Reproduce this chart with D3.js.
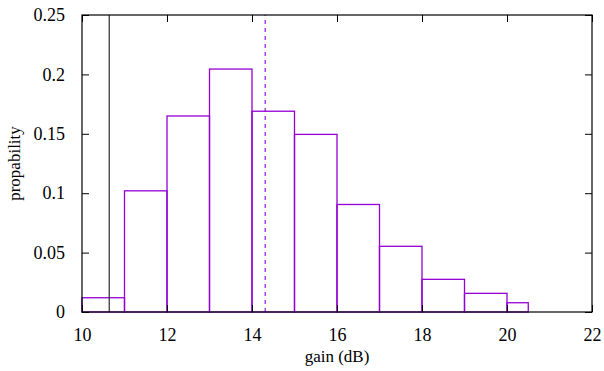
<!DOCTYPE html>
<html>
<head>
<meta charset="utf-8">
<script src="https://cdn.jsdelivr.net/npm/d3@7"></script>
<style>
  body { margin: 0; background: #fff; }
  svg, svg text { font-family: "Liberation Serif", "Times New Roman", serif; }
</style>
</head>
<body>
<svg id="chart" width="604" height="371"></svg>
<script>
// histogram bins (gain in dB) and their probabilities
const binStart = [10, 11, 12, 13, 14, 15, 16, 17, 18, 19, 20];
const binEnd   = [11, 12, 13, 14, 15, 16, 17, 18, 19, 20, 20.5];
const prob     = [0.012, 0.102, 0.165, 0.2045, 0.169, 0.1495, 0.0905, 0.0553, 0.0275, 0.0157, 0.0078];

const xTicks = [10, 12, 14, 16, 18, 20, 22];
const yTicks = [0, 0.05, 0.1, 0.15, 0.2, 0.25];

const solidMark = 10.64;  // black vertical line
const dashedMark = 14.31; // purple dashed line

const svg = d3.select("#chart");
const m = { left: 82, right: 12, top: 15, bottom: 59 };
const W = 604, H = 371;
const purple = "#9400d3";

const x = d3.scaleLinear().domain([10, 22]).range([m.left, W - m.right]);
const y = d3.scaleLinear().domain([0, 0.25]).range([H - m.bottom, m.top]);

// bars
svg.append("g").selectAll("rect")
  .data(prob)
  .join("rect")
  .attr("x", (d, i) => x(binStart[i]))
  .attr("y", d => y(d))
  .attr("width", (d, i) => x(binEnd[i]) - x(binStart[i]))
  .attr("height", d => y(0) - y(d))
  .attr("fill", "none")
  .attr("stroke", purple)
  .attr("stroke-width", 1.3);

// marker lines
svg.append("line")
  .attr("x1", x(solidMark)).attr("x2", x(solidMark))
  .attr("y1", y(0)).attr("y2", y(0.25))
  .attr("stroke", "#000").attr("stroke-width", 1);

svg.append("line")
  .attr("x1", x(dashedMark)).attr("x2", x(dashedMark))
  .attr("y1", y(0)).attr("y2", y(0.25))
  .attr("stroke", purple).attr("stroke-width", 1.1)
  .attr("stroke-dasharray", "4,4");

// axes (gnuplot style: inward ticks, mirrored)
const fmtY = d => d === 0 ? "0" : String(+d.toFixed(2));
const tl = 7;

svg.append("g").attr("transform", `translate(0,${y(0)})`)
  .call(d3.axisBottom(x).tickValues(xTicks).tickSize(-tl).tickPadding(tl + 9).tickFormat(d3.format("d")));
svg.append("g").attr("transform", `translate(0,${y(0.25)})`)
  .call(d3.axisTop(x).tickValues(xTicks).tickSize(-tl).tickFormat(""));
svg.append("g").attr("transform", `translate(${x(10)},0)`)
  .call(d3.axisLeft(y).tickValues(yTicks).tickSize(-tl).tickPadding(tl + 10).tickFormat(fmtY));
svg.append("g").attr("transform", `translate(${x(22)},0)`)
  .call(d3.axisRight(y).tickValues(yTicks).tickSize(-tl).tickFormat(""));

svg.selectAll(".domain").remove();
svg.selectAll("g").attr("font-family", null);
svg.selectAll(".tick line").attr("stroke", "#000");
svg.selectAll(".tick text").attr("font-size", 18).attr("fill", "#000");

// border
svg.append("rect")
  .attr("x", x(10)).attr("y", y(0.25))
  .attr("width", x(22) - x(10)).attr("height", y(0) - y(0.25))
  .attr("fill", "none").attr("stroke", "#000").attr("stroke-width", 1.2);

// axis titles
svg.append("text")
  .attr("x", (x(10) + x(22)) / 2).attr("y", 362)
  .attr("text-anchor", "middle").attr("font-size", 17)
  .text("gain (dB)");

svg.append("text")
  .attr("transform", `translate(20,${(y(0) + y(0.25)) / 2}) rotate(-90)`)
  .attr("text-anchor", "middle").attr("font-size", 17)
  .text("propability");
</script>
</body>
</html>
